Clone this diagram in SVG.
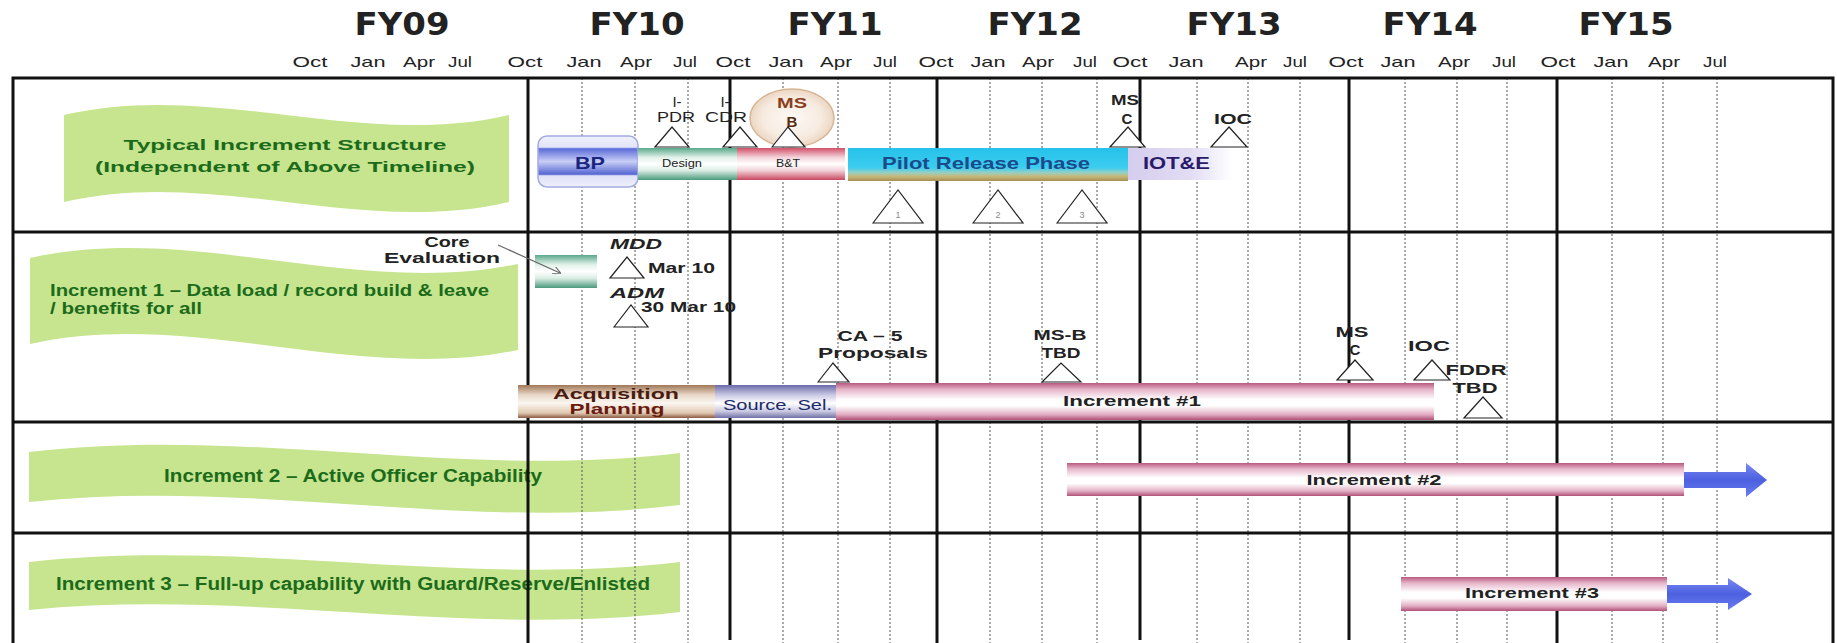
<svg xmlns="http://www.w3.org/2000/svg" width="1837" height="643" viewBox="0 0 1837 643">
<defs>
<linearGradient id="gBP" x1="0" y1="0" x2="0" y2="1">
<stop offset="0" stop-color="#f0f1fc"/><stop offset="0.22" stop-color="#e2e5fa"/><stop offset="0.25" stop-color="#5c6cd8"/><stop offset="0.5" stop-color="#c9cef6"/><stop offset="0.75" stop-color="#5666d2"/><stop offset="0.78" stop-color="#dfe2f8"/><stop offset="1" stop-color="#eef0fb"/>
</linearGradient>
<linearGradient id="gGreen" x1="0" y1="0" x2="0" y2="1">
<stop offset="0" stop-color="#5aa88c"/><stop offset="0.3" stop-color="#e4f2ea"/><stop offset="0.5" stop-color="#ffffff"/><stop offset="0.7" stop-color="#dceee6"/><stop offset="1" stop-color="#4a9a7e"/>
</linearGradient>
<linearGradient id="gRed" x1="0" y1="0" x2="0" y2="1">
<stop offset="0" stop-color="#d2506a"/><stop offset="0.3" stop-color="#f4d6dc"/><stop offset="0.5" stop-color="#ffffff"/><stop offset="0.7" stop-color="#f2d2da"/><stop offset="1" stop-color="#c84860"/>
</linearGradient>
<linearGradient id="gPilot" x1="0" y1="0" x2="0" y2="1">
<stop offset="0" stop-color="#26c2ea"/><stop offset="0.6" stop-color="#3ccdf0"/><stop offset="0.75" stop-color="#98cfc2"/><stop offset="0.86" stop-color="#c8b878"/><stop offset="1" stop-color="#a88e58"/>
</linearGradient>
<linearGradient id="gIOTE" x1="0" y1="0" x2="1" y2="0">
<stop offset="0" stop-color="#d4cdee"/><stop offset="0.6" stop-color="#e2ddf4"/><stop offset="1" stop-color="#ffffff"/>
</linearGradient>
<linearGradient id="gPink" x1="0" y1="0" x2="0" y2="1">
<stop offset="0" stop-color="#b85a80"/><stop offset="0.18" stop-color="#e6b6ca"/><stop offset="0.45" stop-color="#ffffff"/><stop offset="0.62" stop-color="#ffffff"/><stop offset="0.85" stop-color="#e2aec2"/><stop offset="1" stop-color="#b05078"/>
</linearGradient>
<linearGradient id="gAcq" x1="0" y1="0" x2="0" y2="1">
<stop offset="0" stop-color="#a07858"/><stop offset="0.3" stop-color="#e8d8c8"/><stop offset="0.55" stop-color="#fbf6f0"/><stop offset="0.85" stop-color="#e0c8b0"/><stop offset="1" stop-color="#8a5a40"/>
</linearGradient>
<linearGradient id="gSrc" x1="0" y1="0" x2="0" y2="1">
<stop offset="0" stop-color="#6a6aa8"/><stop offset="0.3" stop-color="#c8c8e4"/><stop offset="0.55" stop-color="#ffffff"/><stop offset="0.8" stop-color="#c8c8e0"/><stop offset="1" stop-color="#7070a8"/>
</linearGradient>
<linearGradient id="gArrow" x1="0" y1="0" x2="0" y2="1">
<stop offset="0" stop-color="#7a8af2"/><stop offset="0.5" stop-color="#4c60e0"/><stop offset="1" stop-color="#6a7cf0"/>
</linearGradient>
<radialGradient id="gMS" cx="0.5" cy="0.5" r="0.5">
<stop offset="0" stop-color="#fdf9f4"/><stop offset="0.7" stop-color="#f6ebe0"/><stop offset="1" stop-color="#ecd6c2"/>
</radialGradient>
<marker id="arr" markerWidth="8" markerHeight="8" refX="7" refY="4" orient="auto" markerUnits="userSpaceOnUse">
<path d="M0,0 L8,4 L0,8" fill="none" stroke="#666" stroke-width="1"/>
</marker>
<style>
.fy{font-family:"DejaVu Sans",sans-serif;font-weight:bold;font-size:32px;fill:#222;text-anchor:middle}
.mo{font-family:"Liberation Sans",Arial,sans-serif;font-size:15px;fill:#222;text-anchor:middle}
.ban{fill:#c6e58e}
.bt{font-family:"Liberation Sans",Arial,sans-serif;font-weight:bold;fill:#1b6b1b}
.thick{stroke:#111;stroke-width:3}
.dot{stroke:#555;stroke-width:1;stroke-dasharray:2 2}
.tri{fill:#fff;stroke:#222;stroke-width:1.2}
.lb{font-family:"Liberation Sans",Arial,sans-serif;font-size:15px;fill:#222;text-anchor:middle}
.lbb{font-family:"Liberation Sans",Arial,sans-serif;font-size:15px;font-weight:bold;fill:#222;text-anchor:middle}
.lbs{font-family:"Liberation Sans",Arial,sans-serif;font-size:15px;font-weight:bold;fill:#222;text-anchor:start}
.lbi{font-family:"Liberation Sans",Arial,sans-serif;font-size:15px;font-weight:bold;font-style:italic;fill:#222;text-anchor:middle}
</style>
</defs>
<rect x="0" y="0" width="1837" height="643" fill="#fff"/>

<g id="header">
<text class="fy" x="402" y="35" textLength="95" lengthAdjust="spacingAndGlyphs">FY09</text>
<text class="fy" x="637" y="35" textLength="95" lengthAdjust="spacingAndGlyphs">FY10</text>
<text class="fy" x="835" y="35" textLength="95" lengthAdjust="spacingAndGlyphs">FY11</text>
<text class="fy" x="1035" y="35" textLength="95" lengthAdjust="spacingAndGlyphs">FY12</text>
<text class="fy" x="1234" y="35" textLength="95" lengthAdjust="spacingAndGlyphs">FY13</text>
<text class="fy" x="1430" y="35" textLength="95" lengthAdjust="spacingAndGlyphs">FY14</text>
<text class="fy" x="1626" y="35" textLength="95" lengthAdjust="spacingAndGlyphs">FY15</text>
<g>
<text class="mo" x="310" y="67" textLength="35" lengthAdjust="spacingAndGlyphs">Oct</text>
<text class="mo" x="368" y="67" textLength="35" lengthAdjust="spacingAndGlyphs">Jan</text>
<text class="mo" x="419" y="67" textLength="32" lengthAdjust="spacingAndGlyphs">Apr</text>
<text class="mo" x="460" y="67" textLength="24" lengthAdjust="spacingAndGlyphs">Jul</text>
<text class="mo" x="525" y="67" textLength="35" lengthAdjust="spacingAndGlyphs">Oct</text>
<text class="mo" x="584" y="67" textLength="35" lengthAdjust="spacingAndGlyphs">Jan</text>
<text class="mo" x="636" y="67" textLength="32" lengthAdjust="spacingAndGlyphs">Apr</text>
<text class="mo" x="685" y="67" textLength="24" lengthAdjust="spacingAndGlyphs">Jul</text>
<text class="mo" x="733" y="67" textLength="35" lengthAdjust="spacingAndGlyphs">Oct</text>
<text class="mo" x="786" y="67" textLength="35" lengthAdjust="spacingAndGlyphs">Jan</text>
<text class="mo" x="836" y="67" textLength="32" lengthAdjust="spacingAndGlyphs">Apr</text>
<text class="mo" x="885" y="67" textLength="24" lengthAdjust="spacingAndGlyphs">Jul</text>
<text class="mo" x="936" y="67" textLength="35" lengthAdjust="spacingAndGlyphs">Oct</text>
<text class="mo" x="988" y="67" textLength="35" lengthAdjust="spacingAndGlyphs">Jan</text>
<text class="mo" x="1038" y="67" textLength="32" lengthAdjust="spacingAndGlyphs">Apr</text>
<text class="mo" x="1085" y="67" textLength="24" lengthAdjust="spacingAndGlyphs">Jul</text>
<text class="mo" x="1130" y="67" textLength="35" lengthAdjust="spacingAndGlyphs">Oct</text>
<text class="mo" x="1186" y="67" textLength="35" lengthAdjust="spacingAndGlyphs">Jan</text>
<text class="mo" x="1251" y="67" textLength="32" lengthAdjust="spacingAndGlyphs">Apr</text>
<text class="mo" x="1295" y="67" textLength="24" lengthAdjust="spacingAndGlyphs">Jul</text>
<text class="mo" x="1346" y="67" textLength="35" lengthAdjust="spacingAndGlyphs">Oct</text>
<text class="mo" x="1398" y="67" textLength="35" lengthAdjust="spacingAndGlyphs">Jan</text>
<text class="mo" x="1454" y="67" textLength="32" lengthAdjust="spacingAndGlyphs">Apr</text>
<text class="mo" x="1504" y="67" textLength="24" lengthAdjust="spacingAndGlyphs">Jul</text>
<text class="mo" x="1558" y="67" textLength="35" lengthAdjust="spacingAndGlyphs">Oct</text>
<text class="mo" x="1611" y="67" textLength="35" lengthAdjust="spacingAndGlyphs">Jan</text>
<text class="mo" x="1664" y="67" textLength="32" lengthAdjust="spacingAndGlyphs">Apr</text>
<text class="mo" x="1715" y="67" textLength="24" lengthAdjust="spacingAndGlyphs">Jul</text>
</g>
</g>

<g id="banners">
<g id="row1-label">
<path class="ban" d="M64 115 C212 80 361 150 509 115 L509 202 C361 237 212 167 64 202 Z"/>
<text class="bt" x="285" y="150" font-size="15" text-anchor="middle" textLength="323" lengthAdjust="spacingAndGlyphs">Typical Increment Structure</text>
<text class="bt" x="285" y="172" font-size="15" text-anchor="middle" textLength="380" lengthAdjust="spacingAndGlyphs">(Independent of Above Timeline)</text>
</g>
<g id="row2-label">
<path class="ban" d="M30 258 C193 222 355 298 518 264 L518 350 C355 384 193 308 30 344 Z"/>
<text class="bt" x="50" y="296" font-size="17" textLength="439" lengthAdjust="spacingAndGlyphs">Increment 1 – Data load / record build &amp; leave</text>
<text class="bt" x="50" y="314" font-size="17" textLength="152" lengthAdjust="spacingAndGlyphs">/ benefits for all</text>
</g>
<g id="row3-label">
<path class="ban" d="M29 452 C246 426 463 480 680 453 L680 505 C463 532 246 478 29 502 Z"/>
<text class="bt" x="353" y="482" font-size="18" text-anchor="middle" textLength="378" lengthAdjust="spacingAndGlyphs">Increment 2 – Active Officer Capability</text>
</g>
<g id="row4-label">
<path class="ban" d="M29 562 C246 538 463 588 680 562 L680 612 C463 638 246 588 29 610 Z"/>
<text class="bt" x="353" y="590" font-size="18" text-anchor="middle" textLength="594" lengthAdjust="spacingAndGlyphs">Increment 3 – Full-up capability with Guard/Reserve/Enlisted</text>
</g>
</g>

<g id="grid">
<line class="dot" x1="582" y1="78" x2="582" y2="643"/>
<line class="dot" x1="635" y1="78" x2="635" y2="643"/>
<line class="dot" x1="688" y1="78" x2="688" y2="643"/>
<line class="dot" x1="783" y1="78" x2="783" y2="643"/>
<line class="dot" x1="838" y1="78" x2="838" y2="643"/>
<line class="dot" x1="890" y1="78" x2="890" y2="643"/>
<line class="dot" x1="990" y1="78" x2="990" y2="643"/>
<line class="dot" x1="1042" y1="78" x2="1042" y2="643"/>
<line class="dot" x1="1097" y1="78" x2="1097" y2="643"/>
<line class="dot" x1="1197" y1="78" x2="1197" y2="643"/>
<line class="dot" x1="1248" y1="78" x2="1248" y2="643"/>
<line class="dot" x1="1300" y1="78" x2="1300" y2="643"/>
<line class="dot" x1="1405" y1="78" x2="1405" y2="643"/>
<line class="dot" x1="1457" y1="78" x2="1457" y2="643"/>
<line class="dot" x1="1507" y1="78" x2="1507" y2="643"/>
<line class="dot" x1="1612" y1="78" x2="1612" y2="643"/>
<line class="dot" x1="1663" y1="78" x2="1663" y2="643"/>
<line class="dot" x1="1717" y1="78" x2="1717" y2="643"/>
<line class="thick" x1="528" y1="78" x2="528" y2="643"/>
<line class="thick" x1="730" y1="78" x2="730" y2="640"/>
<line class="thick" x1="937" y1="78" x2="937" y2="643"/>
<line class="thick" x1="1140" y1="78" x2="1140" y2="640"/>
<line class="thick" x1="1349" y1="78" x2="1349" y2="640"/>
<line class="thick" x1="1557" y1="78" x2="1557" y2="643"/>
<line class="thick" x1="13" y1="232" x2="1833" y2="232"/>
<line class="thick" x1="13" y1="422" x2="1833" y2="422"/>
<line class="thick" x1="13" y1="533" x2="1833" y2="533"/>
<path d="M13 646 L13 78 L1833 78 L1833 646" fill="none" stroke="#111" stroke-width="3"/>
</g>

<g id="row1">
<g id="bp"><rect x="538" y="136" width="100" height="51" rx="9" fill="url(#gBP)" stroke="#a4abe4" stroke-width="1.5"/>
<text x="590" y="169" font-family="Liberation Sans, Arial, sans-serif" font-weight="bold" font-size="17" fill="#1a2580" text-anchor="middle" textLength="30" lengthAdjust="spacingAndGlyphs">BP</text></g>
<g id="design"><rect x="638" y="148" width="100" height="32" fill="url(#gGreen)"/>
<text x="682" y="167" font-family="Liberation Sans, Arial, sans-serif" font-size="11" fill="#222" text-anchor="middle" textLength="40" lengthAdjust="spacingAndGlyphs">Design</text></g>
<g id="bt"><rect x="737" y="148" width="108" height="32" fill="url(#gRed)"/>
<text x="788" y="167" font-family="Liberation Sans, Arial, sans-serif" font-size="11" fill="#222" text-anchor="middle" textLength="24" lengthAdjust="spacingAndGlyphs">B&amp;T</text></g>
<g id="pilot"><rect x="848" y="148" width="280" height="33" fill="url(#gPilot)"/>
<text x="986" y="169" font-family="Liberation Sans, Arial, sans-serif" font-weight="bold" font-size="17" fill="#1a4a8a" text-anchor="middle" textLength="208" lengthAdjust="spacingAndGlyphs">Pilot Release Phase</text></g>
<g id="iote"><rect x="1128" y="148" width="105" height="32" fill="url(#gIOTE)"/>
<text x="1143" y="169" font-family="Liberation Sans, Arial, sans-serif" font-weight="bold" font-size="17" fill="#2a1a6a" textLength="67" lengthAdjust="spacingAndGlyphs">IOT&amp;E</text></g>
<g id="ipdr"><polygon class="tri" points="655,147 672,127 689,147"/>
<text class="lb" x="677" y="107">I-</text><text class="lb" x="676" y="122" textLength="38" lengthAdjust="spacingAndGlyphs">PDR</text></g>
<g id="icdr"><polygon class="tri" points="723,147 740,127 757,147"/>
<text class="lb" x="725" y="107">I-</text><text class="lb" x="726" y="122" textLength="42" lengthAdjust="spacingAndGlyphs">CDR</text></g>
<g id="msb1"><ellipse cx="792" cy="118" rx="42" ry="29" fill="url(#gMS)" stroke="#d6b494" stroke-width="1.5"/>
<text x="792" y="108" font-family="Liberation Sans, Arial, sans-serif" font-weight="bold" font-size="15" fill="#8a3e1c" text-anchor="middle" textLength="30" lengthAdjust="spacingAndGlyphs">MS</text>
<text x="792" y="127" font-family="Liberation Sans, Arial, sans-serif" font-weight="bold" font-size="15" fill="#5a2a10" text-anchor="middle">B</text>
<polygon class="tri" points="772,147 788,127 805,147"/></g>
<g id="msc1"><polygon class="tri" points="1110,147 1128,127 1145,147"/>
<text class="lbb" x="1125" y="105" textLength="28" lengthAdjust="spacingAndGlyphs">MS</text><text class="lbb" x="1127" y="124">C</text></g>
<g id="ioc1"><polygon class="tri" points="1211,147 1229,127 1247,147"/>
<text class="lbb" x="1233" y="124" textLength="38" lengthAdjust="spacingAndGlyphs">IOC</text></g>
<g id="p1"><polygon class="tri" points="873,223 898,190 923,223"/><text x="898" y="218" font-family="Liberation Sans, Arial, sans-serif" font-size="9" fill="#888" text-anchor="middle">1</text></g>
<g id="p2"><polygon class="tri" points="973,223 998,190 1023,223"/><text x="998" y="218" font-family="Liberation Sans, Arial, sans-serif" font-size="9" fill="#888" text-anchor="middle">2</text></g>
<g id="p3"><polygon class="tri" points="1057,223 1082,190 1107,223"/><text x="1082" y="218" font-family="Liberation Sans, Arial, sans-serif" font-size="9" fill="#888" text-anchor="middle">3</text></g>
</g>

<g id="row2">
<g id="coreeval"><rect x="535" y="255" width="62" height="33" fill="url(#gGreen)"/>
<text class="lbb" x="447" y="247" textLength="45" lengthAdjust="spacingAndGlyphs">Core</text>
<text class="lbb" x="442" y="263" textLength="116" lengthAdjust="spacingAndGlyphs">Evaluation</text></g>
<g id="mdd"><polygon class="tri" points="610,278 627,257 644,278"/>
<text class="lbi" x="636" y="249" textLength="52" lengthAdjust="spacingAndGlyphs">MDD</text>
<text class="lbs" x="648" y="273" textLength="67" lengthAdjust="spacingAndGlyphs">Mar 10</text></g>
<g id="adm"><polygon class="tri" points="614,327 631,305 648,327"/>
<text class="lbi" x="637" y="298" textLength="54" lengthAdjust="spacingAndGlyphs">ADM</text>
<text class="lbs" x="641" y="312" textLength="95" lengthAdjust="spacingAndGlyphs">30 Mar 10</text></g>
<g id="acq"><rect x="518" y="385" width="198" height="33" fill="url(#gAcq)"/>
<text x="616" y="399" font-family="Liberation Sans, Arial, sans-serif" font-weight="bold" font-size="15" fill="#4a1a10" text-anchor="middle" textLength="126" lengthAdjust="spacingAndGlyphs">Acquisition</text>
<text x="617" y="414" font-family="Liberation Sans, Arial, sans-serif" font-weight="bold" font-size="15" fill="#6a1a10" text-anchor="middle" textLength="95" lengthAdjust="spacingAndGlyphs">Planning</text></g>
<g id="srcsel"><rect x="715" y="385" width="122" height="33" fill="url(#gSrc)"/>
<text x="723" y="410" font-family="Liberation Sans, Arial, sans-serif" font-size="14" fill="#1a2a6a" textLength="109" lengthAdjust="spacingAndGlyphs">Source. Sel.</text></g>
<g id="inc1"><rect x="836" y="383" width="598" height="37" fill="url(#gPink)"/>
<text x="1132" y="406" font-family="Liberation Sans, Arial, sans-serif" font-weight="bold" font-size="15" fill="#222" text-anchor="middle" textLength="138" lengthAdjust="spacingAndGlyphs">Increment #1</text></g>
<g id="ca5"><polygon class="tri" points="818,382 833,363 849,382"/>
<text class="lbb" x="870" y="341" textLength="65" lengthAdjust="spacingAndGlyphs">CA – 5</text>
<text class="lbb" x="873" y="358" textLength="110" lengthAdjust="spacingAndGlyphs">Proposals</text></g>
<g id="msb2"><polygon class="tri" points="1042,382 1061,363 1081,382"/>
<text class="lbb" x="1060" y="340" textLength="53" lengthAdjust="spacingAndGlyphs">MS-B</text>
<text class="lbb" x="1061" y="358" textLength="39" lengthAdjust="spacingAndGlyphs">TBD</text></g>
<g id="msc2"><polygon class="tri" points="1337,380 1355,360 1373,380"/>
<text class="lbb" x="1352" y="337" textLength="33" lengthAdjust="spacingAndGlyphs">MS</text>
<text class="lbb" x="1355" y="355">C</text></g>
<g id="ioc2"><polygon class="tri" points="1414,380 1432,360 1450,380"/>
<text class="lbb" x="1429" y="351" textLength="42" lengthAdjust="spacingAndGlyphs">IOC</text></g>
<g id="fddr"><polygon class="tri" points="1464,418 1483,397 1502,418"/>
<text class="lbb" x="1476" y="375" textLength="61" lengthAdjust="spacingAndGlyphs">FDDR</text>
<text class="lbb" x="1475" y="393" textLength="45" lengthAdjust="spacingAndGlyphs">TBD</text></g>
</g>

<g id="row3">
<g id="inc2"><rect x="1067" y="463" width="617" height="33" fill="url(#gPink)"/>
<text x="1374" y="485" font-family="Liberation Sans, Arial, sans-serif" font-weight="bold" font-size="15" fill="#222" text-anchor="middle" textLength="135" lengthAdjust="spacingAndGlyphs">Increment #2</text>
<polygon points="1684,472 1746,472 1746,463 1767,480 1746,497 1746,488 1684,488" fill="url(#gArrow)"/></g>
</g>

<g id="row4">
<g id="inc3"><rect x="1401" y="577" width="266" height="34" fill="url(#gPink)"/>
<text x="1532" y="598" font-family="Liberation Sans, Arial, sans-serif" font-weight="bold" font-size="15" fill="#222" text-anchor="middle" textLength="134" lengthAdjust="spacingAndGlyphs">Increment #3</text>
<polygon points="1667,585 1728,585 1728,578 1752,594 1728,610 1728,603 1667,603" fill="url(#gArrow)"/></g>
</g>

<g id="connectors">
<line x1="498" y1="245" x2="560" y2="273" stroke="#666" stroke-width="1.2" marker-end="url(#arr)"/>
</g>
</svg>
